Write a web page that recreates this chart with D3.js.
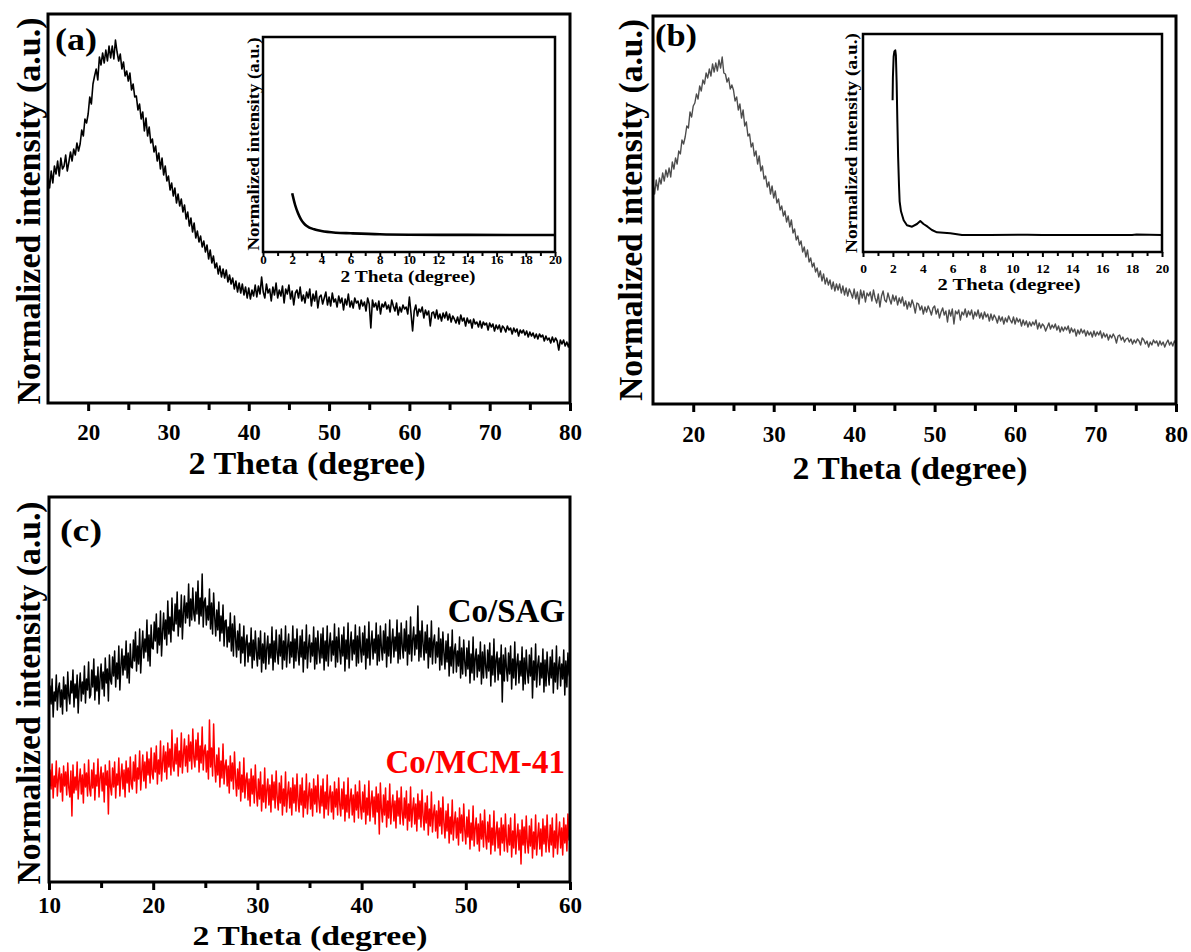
<!DOCTYPE html>
<html>
<head>
<meta charset="utf-8">
<script src="https://cdn.jsdelivr.net/npm/d3@7"></script>
<style>
  body { margin: 0; background: #fff; }
</style>
</head>
<body>
<script>
// ---------- Data ----------
// (a) wide-angle XRD, 2θ = 15–80° sampled every 0.2°
const aStart = 15, aStep = 0.2;
const aIntensity = [
  226,214,231,219,236, 228,241,226,244,233, 236,247,231,240,250, 241,253,247,259,251,
  258,272,266,283,279, 288,305,298,318,326, 333,322,345,337,349, 339,352,341,356,344,
  356,343,362,350,341, 348,333,340,326,331, 321,329,312,318,305, 306,292,298,283,290,
  271,284,266,275,259, 263,250,256,241,249, 233,244,227,236,221, 226,212,219,206,214,
  199,208,196,203,190, 197,183,190,176,184, 170,179,164,171,160, 166,155,161,150,157,
  143,152,139,146,134, 139,128,136,125,133, 124,132,120,127,118, 124,113,121,110,119,
  109,118,107,115,104, 114,103,112,106,117, 105,116,108,125,110, 104,118,109,113,101,
  115,107,119,104,112, 106,116,99,113,108, 117,103,111,97,109, 112,104,115,101,107,
  99,110,104,113,96, 108,101,111,94,105, 107,98,104,110,97, 105,96,109,100,103,
  95,106,99,104,92, 103,97,108,95,101, 94,104,99,101,93, 102,96,100,91,104,
  98,74,102,95,99, 92,101,88,98,95, 100,93,97,90,102, 96,91,99,87,95,
  90,97,93,95,88, 105,89,71,91,97, 86,93,90,95,84, 92,87,91,76,89,
  90,84,92,83,88, 81,89,84,90,82, 88,80,86,83,79, 85,78,87,81,84,
  76,84,79,82,74, 83,78,80,75,81, 74,80,77,79,72, 79,75,78,71,77,
  73,77,70,76,74, 70,76,72,74,68, 74,70,73,66,72, 69,72,67,71,65,
  70,66,69,64,68, 63,68,65,67,61, 66,62,64,59,65, 60,64,61,52,62,
  58,62,56,60,55, 61
];

// (b) wide-angle XRD, 2θ = 15–80° sampled every 0.2°
const bStart = 15, bStep = 0.2;
const bIntensity = [
  219,208,222,212,224, 218,229,221,232,225, 234,225,240,233,244, 238,251,248,262,258,
  265,276,274,290,285, 296,299,308,303,316, 311,322,318,329,324, 333,326,338,330,339,
  331,342,334,345,329, 328,320,324,313,317, 312,301,305,292,298, 284,292,276,280,266,
  268,255,259,246,251, 238,246,231,236,223, 226,215,220,208,216, 204,211,199,203,192,
  196,186,191,180,186, 175,182,169,173,162, 166,157,161,150,155, 145,152,140,144,135,
  139,130,134,125,131, 121,128,118,124,117, 122,113,120,111,118, 112,118,109,116,107,
  114,106,113,109,104, 113,103,110,98,112, 104,111,100,109,106, 110,101,112,104,99,
  108,95,106,111,102, 100,109,103,98,107, 101,106,97,104,99, 105,96,101,93,100,
  95,102,97,89,99, 98,92,96,88,95, 90,96,92,87,94, 96,88,93,84,90,
  94,87,91,80,92, 86,93,78,91,88, 92,82,90,87,93, 85,91,87,92,83,
  90,86,92,84,89, 83,90,85,88,81, 88,82,87,84,79, 86,81,85,78,84,
  80,86,82,79,85, 78,84,80,83,76, 82,77,81,75,80, 76,80,77,82,73,
  79,74,78,76,71, 75,79,73,77,74, 78,72,76,70,75, 71,75,72,76,69,
  74,70,73,66,72, 68,73,69,72,66, 71,67,70,65,71, 66,70,67,71,64,
  69,65,68,62,67, 64,68,65,59,66, 67,62,65,60,63, 64,60,63,58,62,
  59,63,61,57,64, 62,58,61,55,60, 57,62,59,61,56, 61,57,60,55,59,
  62,57,60,56,61, 58
];

// Small-angle insets: 2θ (degree) and intensity
const aInsetTheta = [2.0, 2.2, 2.4, 2.6, 2.8, 3.0, 3.5, 4.0, 5.0, 6.0, 8.0, 10.0, 14.0, 20.0];
const aInsetIntensity = [58.7, 47, 38.7, 32.7, 28.7, 26, 22.7, 21, 19.3, 18.7, 17.7, 17.3, 17.1, 17];

const bInsetTheta = [1.98, 2.0, 2.05, 2.1, 2.16, 2.2, 2.25, 2.3, 2.35, 2.41, 2.45, 2.54, 2.72, 2.94,
  3.28, 3.61, 3.83, 4.05, 4.32, 4.61, 4.95, 5.84, 6.62, 8.5, 11.0, 12.0, 18.0, 18.3, 20.0];
const bInsetIntensity = [152, 175, 196, 201, 202, 197, 170, 130, 95, 66, 51, 41, 32, 27,
  25.6, 28.3, 31.3, 28.3, 25.6, 22.3, 20, 19, 17.3, 17.3, 17.6, 17.2, 17.4, 17.8, 17.3];

// (c) Co-loaded supports, 2θ = 10–60° sampled every 0.1°
const cStart = 10, cStep = 0.1;
const cSeriesNames = ["Co/SAG", "Co/MCM-41"];
const cSAG = [
  170,196,178,203,165,190,181,207,172,193, 199,175,192,168,205,183,197,171,210,186,
  178,201,189,212,175,198,184,207,169,195, 209,181,200,188,216,179,203,192,220,184,
  187,212,195,223,182,206,191,215,178,204, 218,193,210,186,224,199,213,181,227,202,
  198,225,206,231,195,219,203,236,192,216, 233,207,226,212,241,204,229,199,238,215,
  214,242,221,250,211,236,218,253,209,233, 251,224,243,230,262,221,247,216,257,234,
  233,260,241,268,229,254,237,271,226,250, 269,243,262,237,281,248,265,240,284,252,
  251,278,258,290,246,272,255,287,243,269, 286,259,279,264,298,256,283,262,294,268,
  261,290,268,301,258,284,266,308,255,280, 284,257,276,262,293,253,279,248,289,265,
  246,272,252,280,241,266,249,277,236,261, 262,235,255,240,269,231,258,226,266,244,
  225,251,232,258,219,245,229,256,216,240, 247,220,239,226,254,214,242,222,251,230,
  216,244,223,251,210,238,219,249,213,234, 246,218,238,224,255,212,241,220,252,229,
  218,247,226,253,213,241,222,256,215,236, 248,219,240,225,256,214,243,221,253,230,
  217,246,225,252,210,240,223,257,214,235, 247,220,239,226,255,213,244,218,251,231,
  219,248,224,254,212,241,221,256,216,237, 249,221,241,227,258,215,245,220,254,232,
  218,247,226,255,211,242,223,259,214,236, 250,222,242,228,257,216,246,219,255,233,
  220,249,227,256,213,243,224,260,217,238, 251,223,243,229,259,217,247,221,256,234,
  222,251,229,258,215,245,226,262,219,240, 253,225,245,231,262,219,249,223,259,236,
  224,253,231,261,217,247,228,265,221,242, 255,227,247,233,276,221,251,225,261,238,
  222,250,229,257,214,244,225,261,218,240, 247,219,240,225,254,212,243,217,250,229,
  213,241,220,248,206,235,216,252,209,231, 238,210,231,216,245,204,234,208,242,220,
  206,234,213,241,199,228,209,245,202,224, 233,205,227,211,240,198,230,204,237,216,
  204,232,211,239,196,226,207,243,200,222, 230,202,224,208,237,180,227,201,234,213,
  201,229,208,236,193,223,204,240,197,219, 228,199,221,206,235,192,224,198,232,211,
  199,227,206,234,184,221,202,238,195,217, 226,197,219,204,233,190,222,196,230,209,
  197,225,204,232,189,219,200,236,193,215, 225,196,218,203,232,187,221,195,229,208,
  204
];
const cMCM = [
  88,112,93,118,84,106,95,121,86,103, 114,90,108,81,116,96,110,87,119,94,
  85,111,66,117,89,105,92,120,83,101, 113,88,107,79,118,95,109,86,122,93,
  86,112,94,119,82,107,96,123,85,104, 115,91,109,80,117,97,111,68,121,95,
  87,114,95,120,84,108,97,124,86,105, 118,93,112,85,121,99,114,90,125,98,
  93,120,101,127,89,114,103,131,92,110, 127,101,120,94,130,107,123,99,134,108,
  103,129,110,136,98,122,108,141,101,119, 136,110,130,103,139,115,133,107,152,116,
  111,138,118,144,106,131,115,149,109,127, 143,116,136,110,147,121,140,113,153,124,
  115,142,122,149,110,136,119,155,112,131, 137,110,131,103,162,115,134,106,158,118,
  100,127,107,134,95,121,104,138,98,116, 122,96,116,89,126,101,119,93,130,104,
  86,113,93,120,81,107,90,124,84,102, 109,82,103,76,113,88,106,79,117,91,
  76,103,83,110,71,97,80,114,74,92, 103,77,97,70,107,82,100,74,111,85,
  72,99,79,106,67,93,76,110,70,88, 100,74,94,67,104,79,97,71,108,82,
  70,97,77,104,65,91,74,108,68,86, 99,73,93,66,103,78,96,70,107,81,
  69,96,76,103,64,90,73,107,67,85, 96,70,90,63,100,75,93,67,104,78,
  66,93,73,100,61,87,70,104,64,82, 93,67,87,60,97,72,90,64,101,75,
  63,90,70,97,58,84,67,101,61,79, 91,65,85,58,95,70,88,48,99,73,
  60,87,67,94,55,81,64,98,58,76, 87,61,81,54,91,66,84,58,95,69,
  57,84,64,91,52,78,61,95,55,73, 84,58,78,51,88,63,81,55,92,66,
  52,79,59,86,47,73,56,90,50,68, 77,51,71,44,81,56,74,48,85,59,
  44,71,51,78,39,65,48,82,42,60, 70,44,64,37,74,49,67,41,78,52,
  38,65,45,72,33,59,42,76,36,54, 64,38,58,31,68,43,61,35,72,46,
  33,60,40,67,28,54,37,71,31,49, 60,34,54,27,64,39,57,31,68,42,
  30,57,37,64,25,51,34,68,28,46, 58,32,52,18,62,37,55,29,66,40,
  29,56,36,63,24,50,33,67,27,45, 59,33,53,26,63,38,56,30,67,41,
  30,57,37,64,25,51,34,68,28,46, 60,34,54,27,64,39,57,31,68,42,
  47
];

// Axis tick values
const mainTicks = [20, 30, 40, 50, 60, 70, 80];
const mainMinor = [25, 35, 45, 55, 65, 75];
const insetTicks = [0, 2, 4, 6, 8, 10, 12, 14, 16, 18, 20];
const insetMinor = [1, 3, 5, 7, 9, 11, 13, 15, 17, 19];
const cTicks = [10, 20, 30, 40, 50, 60];
const cMinor = [15, 25, 35, 45, 55];

const xTitle = "2 Theta (degree)";
const yTitle = "Normalized intensity (a.u.)";

// ---------- Drawing ----------
const SERIF = "'Liberation Serif', 'Times New Roman', serif";
const svg = d3.select("body").append("svg")
  .attr("width", 1191).attr("height", 952)
  .style("display", "block");

function toPoints(start, step, values) {
  return values.map((v, i) => [start + i * step, v]);
}

function frame(o) {
  const x = d3.scaleLinear().domain(o.xDomain).range([o.left, o.right]);
  const y = d3.scaleLinear().domain(o.yDomain).range([o.yBase, o.yTop]);
  const g = svg.append("g");
  const minor = g.append("g").attr("transform", `translate(0,${o.bottom})`)
    .call(d3.axisBottom(x).tickValues(o.minor).tickSize(o.minorLen).tickFormat(""));
  const major = g.append("g").attr("transform", `translate(0,${o.bottom})`)
    .call(d3.axisBottom(x).tickValues(o.major).tickSize(o.majorLen).tickFormat(d3.format("d")));
  [minor, major].forEach(a => {
    a.select(".domain").remove();
    a.selectAll("line").attr("stroke", "#000").attr("stroke-width", o.tickW);
  });
  major.attr("font-family", SERIF).attr("font-size", o.tickFont).attr("font-weight", "bold");
  major.selectAll("text").attr("fill", "#000")
    .attr("y", o.labelY - o.bottom).attr("dy", "0.35em");
  const plot = g.append("g");
  g.append("rect")
    .attr("x", o.left).attr("y", o.top)
    .attr("width", o.right - o.left).attr("height", o.bottom - o.top)
    .attr("fill", "none").attr("stroke", "#000").attr("stroke-width", o.frameW);
  return { g, plot, x, y };
}

function label(txt, x, y, size, opts = {}) {
  const t = svg.append("text")
    .attr("x", x).attr("y", y)
    .attr("font-family", SERIF).attr("font-weight", "bold")
    .attr("font-size", size)
    .attr("fill", opts.fill || "#000")
    .attr("text-anchor", opts.anchor || "start")
    .text(txt);
  if (opts.len) t.attr("textLength", opts.len).attr("lengthAdjust", "spacingAndGlyphs");
  return t;
}

function vlabel(txt, x, cy, size, len) {
  svg.append("text")
    .attr("transform", `translate(${x},${cy}) rotate(-90)`)
    .attr("font-family", SERIF).attr("font-weight", "bold")
    .attr("font-size", size).attr("fill", "#000")
    .attr("text-anchor", "middle")
    .attr("textLength", len).attr("lengthAdjust", "spacingAndGlyphs")
    .text(txt);
}

function drawLine(p, pts, color, width, curve) {
  p.plot.append("path")
    .datum(pts)
    .attr("fill", "none")
    .attr("stroke", color)
    .attr("stroke-width", width)
    .attr("stroke-linejoin", "round")
    .attr("d", d3.line().x(d => p.x(d[0])).y(d => p.y(d[1])).curve(curve || d3.curveLinear));
}

// ---- Panel (a) ----
const pa = frame({
  xDomain: [15, 80], left: 48, right: 570, top: 14, bottom: 403,
  yDomain: [0, 388], yBase: 402, yTop: 14,
  major: mainTicks, minor: mainMinor, majorLen: 8, minorLen: 7, tickW: 3,
  tickFont: 23, labelY: 432, frameW: 3
});
drawLine(pa, toPoints(aStart, aStep, aIntensity), "#000", 1.6);
label("(a)", 55, 50, 32, { len: 42 });
label(xTitle, 307, 474, 31, { anchor: "middle", len: 237 });
vlabel(yTitle, 40, 211, 33, 387);

// inset (a)
const pai = frame({
  xDomain: [0, 20], left: 263, right: 555, top: 37, bottom: 252,
  yDomain: [0, 215], yBase: 252, yTop: 37,
  major: insetTicks, minor: insetMinor, majorLen: 5, minorLen: 4, tickW: 2,
  tickFont: 13, labelY: 259, frameW: 2.5
});
drawLine(pai, aInsetTheta.map((t, i) => [t, aInsetIntensity[i]]), "#000", 2.6, d3.curveMonotoneX);
label(xTitle, 408, 282, 16, { anchor: "middle", len: 135 });
vlabel(yTitle, 259, 144, 17, 213);

// ---- Panel (b) ----
const pb = frame({
  xDomain: [15, 80], left: 653, right: 1176, top: 16, bottom: 404,
  yDomain: [0, 386], yBase: 402, yTop: 16,
  major: mainTicks, minor: mainMinor, majorLen: 8, minorLen: 7, tickW: 3,
  tickFont: 23, labelY: 434, frameW: 3
});
drawLine(pb, toPoints(bStart, bStep, bIntensity), "#4d4d4d", 1.4);
label("(b)", 655, 46, 32, { len: 42 });
label(xTitle, 910, 479, 31, { anchor: "middle", len: 235 });
vlabel(yTitle, 642, 210, 33, 382);

// inset (b)
const pbi = frame({
  xDomain: [0, 20], left: 863, right: 1162, top: 34, bottom: 252,
  yDomain: [0, 218], yBase: 252.3, yTop: 34.3,
  major: insetTicks, minor: insetMinor, majorLen: 5, minorLen: 4, tickW: 2,
  tickFont: 13.5, labelY: 268, frameW: 2.5
});
drawLine(pbi, bInsetTheta.map((t, i) => [t, bInsetIntensity[i]]), "#000", 2);
label(xTitle, 1009, 290, 16.5, { anchor: "middle", len: 143 });
vlabel(yTitle, 857, 143, 17.5, 220);

// ---- Panel (c) ----
const pc = frame({
  xDomain: [10, 60], left: 49, right: 570, top: 497, bottom: 882,
  yDomain: [0, 385], yBase: 882, yTop: 497,
  major: cTicks, minor: cMinor, majorLen: 8, minorLen: 6, tickW: 3,
  tickFont: 23, labelY: 905, frameW: 3
});
drawLine(pc, toPoints(cStart, cStep, cSAG), "#000", 1.5);
drawLine(pc, toPoints(cStart, cStep, cMCM), "#ff0000", 1.5);
label("(c)", 60, 541, 32, { len: 42 });
label(cSeriesNames[0], 565, 622, 33, { anchor: "end" });
label(cSeriesNames[1], 565, 773, 33, { anchor: "end", fill: "#ff0000" });
label(xTitle, 310, 945, 28, { anchor: "middle", len: 235 });
vlabel(yTitle, 40, 693, 33, 383);
</script>
</body>
</html>
